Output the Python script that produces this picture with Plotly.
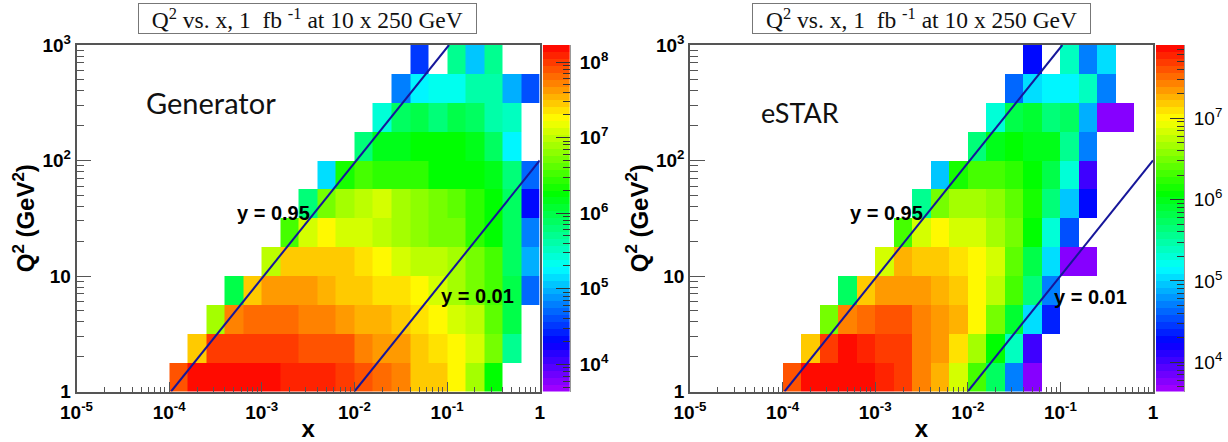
import numpy as np
import plotly.graph_objects as go
import colorsys

W, H = 1228, 442

# log10(counts) per bin, rows bottom to top; each row: (first filled column, values). None = empty bin
generator_rows = [
    (5, [7.90,8.22,8.18,8.19,8.19,8.19,8.09,8.09,8.06,8.00,7.90,7.82,7.73,7.49,7.41,7.24,6.91,6.26]),
    (6, [7.41,8.00,8.00,8.01,8.03,7.98,7.93,7.86,7.90,7.73,7.65,7.60,7.49,7.32,7.24,7.05,6.67,5.69]),
    (7, [6.91,7.73,7.82,7.82,7.83,7.73,7.73,7.63,7.57,7.54,7.44,7.37,7.24,7.11,6.95,6.59,6.01]),
    (8, [6.01,7.49,7.65,7.65,7.63,7.57,7.49,7.44,7.37,7.31,7.24,7.08,6.91,6.75,6.51,6.01,4.70]),
    (10, [7.00,7.49,7.45,7.41,7.41,7.32,7.24,7.08,7.01,6.98,6.91,6.75,6.51,5.93,4.95]),
    (11, [6.51,7.11,7.27,7.11,7.05,6.98,6.91,6.83,6.75,6.67,6.42,6.29,5.85,4.79]),
    (12, [5.77,6.67,6.91,7.00,7.05,6.91,6.83,6.67,6.59,6.42,6.29,5.85,4.30]),
    (13, [5.11,6.34,6.51,6.46,6.46,6.46,6.29,6.29,6.26,6.18,5.77,4.70]),
    (15, [5.80,6.13,6.18,6.23,6.26,6.23,6.18,5.85,5.20]),
    (16, [5.44,5.93,6.01,5.77,5.96,5.93,5.60,5.52]),
    (17, [4.75,5.20,5.31,5.36,5.60,5.60,4.95,4.59]),
    (18, [4.54,None,5.69,5.03,5.69]),
]
estar_rows = [
    (5, [7.60,7.87,7.85,7.87,7.88,7.75,7.67,7.44,7.22,6.83,6.30,5.69,4.71,3.79]),
    (6, [7.14,7.72,7.82,7.75,7.72,7.66,7.47,7.37,7.06,6.68,6.07,5.39,4.02]),
    (7, [6.53,7.44,7.52,7.63,7.57,7.47,7.37,7.22,6.99,6.53,5.92,5.01,4.40]),
    (8, [5.69,7.17,7.37,7.35,7.32,7.22,7.14,6.99,6.76,6.30,5.62,4.71]),
    (10, [6.80,7.22,7.18,7.17,7.11,6.99,6.80,6.45,5.85,5.01,3.79,3.79]),
    (11, [6.30,6.80,6.99,6.87,6.80,6.68,6.53,6.07,5.31,4.55]),
    (12, [5.54,6.53,6.68,6.68,6.61,6.38,6.15,5.62,4.93,4.25]),
    (13, [4.93,6.15,6.30,6.30,6.26,6.10,5.77,5.31,4.02]),
    (15, [5.62,6.00,6.04,6.00,5.95,5.54,4.71]),
    (16, [5.28,5.85,5.92,5.62,5.69,4.86,3.76,3.76]),
    (17, [4.58,5.01,5.13,5.16,5.39,4.71]),
    (18, [4.25,None,5.39,4.71,5.01]),
]
generator_range = (3.64, 8.225)
estar_range = (3.64, 7.90)

x_ticks = [1e-5, 1e-4, 1e-3, 1e-2, 1e-1, 1]
x_labels = ["10<sup>-5</sup>", "10<sup>-4</sup>", "10<sup>-3</sup>", "10<sup>-2</sup>", "10<sup>-1</sup>", "1"]
y_ticks = [1, 10, 100, 1000]
y_labels = ["1", "10", "10<sup>2</sup>", "10<sup>3</sup>"]
line_x_high = [1.05e-4, 0.105]   # y = 0.95
line_y_high = [1, 1000]
line_x_low = [0.01, 1]           # y = 0.01
line_y_low = [1, 100]
title_text = "Q<sup>2</sup> vs. x, 1  fb <sup>-1</sup> at 10 x 250 GeV"

x_edges = [10 ** (-5 + 0.2 * i) for i in range(26)]
y_edges = [10 ** (0.25 * i) for i in range(13)]


def grid(rows):
    out = []
    for start, vals in rows:
        r = [None] * 25
        r[start:start + len(vals)] = vals
        out.append(r)
    return out


def palette():
    stops = []
    n = 50
    for i in range(n):
        h = 280 * (1 - (i + 0.5) / n)
        r, g, b = colorsys.hls_to_rgb(h / 360, 0.5, 1)
        c = f"rgb({int(r*255)},{int(g*255)},{int(b*255)})"
        stops += [[i / n, c], [(i + 1) / n, c]]
    return stops


def minor_vals(lo, hi):
    return [m * 10.0 ** e for e in range(lo, hi) for m in range(2, 10)]


AXC = "#555555"
FONT = "Liberation Sans"
PAL = palette()
fig = go.Figure()
layout = dict(
    width=W, height=H, margin=dict(l=0, r=0, t=0, b=0, autoexpand=False),
    paper_bgcolor="white", plot_bgcolor="white", showlegend=False,
    font=dict(family=FONT, color="black"),
)
y0, y1 = 1 - 391.5 / H, 1 - 45 / H
annotations = []


def panel(k, left, right, bar_l, bar_r, rows, rng, bar_ticks, bar_weight, name, name_size, name_xy, lab1, lab2, box):
    xa, ya = f"x{2*k+1}", f"y{2*k+1}"
    xb, yb = f"x{2*k+2}", f"y{2*k+2}"
    fig.add_trace(go.Heatmap(x=x_edges, y=y_edges, z=grid(rows), xaxis=xa, yaxis=ya,
                             colorscale=PAL, zmin=rng[0], zmax=rng[1], showscale=False,
                             hoverongaps=False))
    for lx, ly in ((line_x_high, line_y_high), (line_x_low, line_y_low)):
        fig.add_trace(go.Scatter(x=lx, y=ly, mode="lines", xaxis=xa, yaxis=ya,
                                 line=dict(color="#16169a", width=2)))
    levels = np.linspace(rng[0], rng[1], 51)
    centers = (levels[:-1] + levels[1:]) / 2
    fig.add_trace(go.Heatmap(x=[0, 1], y=[10 ** v for v in levels], z=[[c] for c in centers],
                             xaxis=xb, yaxis=yb, colorscale=PAL, zmin=rng[0], zmax=rng[1],
                             showscale=False))
    common = dict(showline=True, linecolor=AXC, linewidth=1.5, mirror=True, showgrid=False,
                  zeroline=False, type="log", automargin=False,
                  tickfont=dict(family=FONT, size=19, weight="bold", color="black"),
                  ticks="inside", tickcolor=AXC, tickwidth=1)
    layout[f"xaxis{2*k+1}"] = dict(
        common, domain=[left / W, right / W], anchor=ya, range=[-5, 0],
        tickmode="array", tickvals=x_ticks, ticktext=x_labels, ticklen=10, ticklabelstandoff=3,
        minor=dict(ticks="inside", ticklen=5, tickmode="array", tickvals=minor_vals(-5, 0),
                   tickcolor=AXC, tickwidth=1, showgrid=False),
        title=dict(text="x", font=dict(family=FONT, size=24, weight="bold"), standoff=3),
    )
    layout[f"yaxis{2*k+1}"] = dict(
        common, domain=[y0, y1], anchor=xa, range=[0, 3],
        tickmode="array", tickvals=y_ticks, ticktext=y_labels, ticklen=15, ticklabelstandoff=0,
        minor=dict(ticks="inside", ticklen=8, tickmode="array", tickvals=minor_vals(0, 3),
                   tickcolor=AXC, tickwidth=1, showgrid=False),
        title=dict(text="Q<sup>2</sup> (GeV<sup>2</sup>)", font=dict(family=FONT, size=24, weight="bold"), standoff=1),
    )
    layout[f"xaxis{2*k+2}"] = dict(domain=[bar_l / W, bar_r / W], anchor=yb, range=[0, 1],
                                   visible=False, fixedrange=True)
    layout[f"yaxis{2*k+2}"] = dict(
        domain=[y0, y1], anchor=xb, side="right", type="log", range=list(rng), automargin=False,
        showline=True, linecolor="#999999", linewidth=1, showgrid=False, zeroline=False,
        tickmode="array", tickvals=[10 ** t for t in bar_ticks],
        ticktext=[f"10<sup>{t}</sup>" for t in bar_ticks],
        ticks="inside", ticklen=14, tickcolor="#333333", tickwidth=1, ticklabelstandoff=5,
        tickfont=dict(family=FONT, size=19, weight=bar_weight, color="black"),
        minor=dict(ticks="inside", ticklen=7, tickmode="array",
                   tickvals=minor_vals(int(rng[0]), int(rng[1]) + 1),
                   tickcolor="#333333", tickwidth=1, showgrid=False),
    )
    annotations.append(dict(
        xref="paper", yref="paper", x=(box[0] + box[1]) / 2 / W, y=1 - 18.5 / H, text=title_text,
        showarrow=False, xanchor="center", yanchor="middle", width=box[1] - box[0] - 2, height=29,
        bordercolor="#777777", borderwidth=1, borderpad=0, bgcolor="white", align="center",
        font=dict(family="Liberation Serif", size=23.5, color="#111111")))
    annotations.append(dict(
        xref="paper", yref="paper", x=name_xy[0] / W, y=1 - name_xy[1] / H, text=name, showarrow=False,
        xanchor="left", yanchor="middle", font=dict(family="Lato", size=name_size, color="#111111")))
    for txt, (lx, ly) in (("y = 0.95", lab1), ("y = 0.01", lab2)):
        annotations.append(dict(
            xref="paper", yref="paper", x=lx / W, y=1 - ly / H, text=txt, showarrow=False,
            xanchor="left", yanchor="middle",
            font=dict(family=FONT, size=20, weight="bold", color="black")))


panel(0, 76.5, 539.7, 542.7, 570, generator_rows, generator_range, [4, 5, 6, 7, 8], "bold",
      "Generator", 29, (144, 102), (235, 213), (439, 296), (138.5, 477))
panel(1, 690, 1153, 1156, 1184, estar_rows, estar_range, [4, 5, 6, 7], "normal",
      "eSTAR", 27, (759, 113), (848, 213), (1052, 297), (752, 1091))

layout["annotations"] = annotations
fig.update_layout(**layout)
fig.write_html("out.html", post_script="document.body.style.margin='0';",
               config=dict(displayModeBar=False))
